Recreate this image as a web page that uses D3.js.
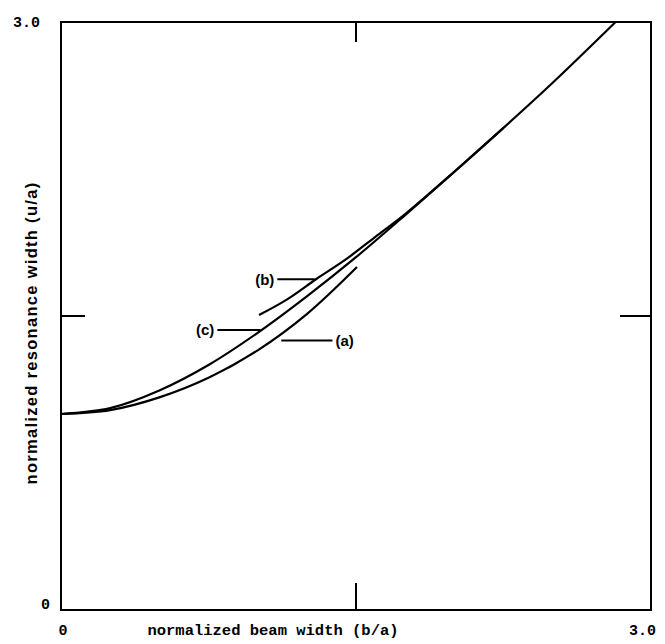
<!DOCTYPE html>
<html>
<head>
    <meta charset="utf-8">
    <title>Resonance width vs beam width</title>
    <style>
        body { margin: 0; background: #fff; }
    </style>
</head>
<body>
    <script src="https://d3js.org/d3.v7.min.js"></script>
    <script type="text/javascript">

    // values (b/a, u/a)
    var curveA = [[0, 1.0], [0.25, 1.02], [0.5, 1.085], [0.75, 1.185], [1.0, 1.325], [1.25, 1.51], [1.505, 1.75]];
    var curveB = [[1.007, 1.505], [1.15, 1.585], [1.3, 1.69], [1.45, 1.79], [1.6, 1.905], [1.75, 2.02], [2.0, 2.236], [2.25, 2.46]];
    var curveC = [[0, 1.0], [0.25, 1.03], [0.5, 1.12], [0.75, 1.25], [1.0, 1.414], [1.25, 1.60], [1.5, 1.80],
                  [1.75, 2.015], [2.0, 2.236], [2.25, 2.46], [2.5, 2.69], [2.82, 3.0]];

    var xTickLabels = ["0", "3.0"];
    var yTickLabels = ["0", "3.0"];
    var midTick = 1.5;

    var labels = [
        {text: "(a)", dir: 1},
        {text: "(b)", dir: -1},
        {text: "(c)", dir: -1}
    ];

    var margin = {top: 22, right: 14, bottom: 34, left: 61},
        width  = 665 - margin.left - margin.right,
        height = 644 - margin.top - margin.bottom;

    var x = d3.scaleLinear().domain([0, 3]).range([0, width]);
    var y = d3.scaleLinear().domain([0, 3]).range([height, 0]);

    var svg = d3.select("body")
        .append("svg")
        .attr("width", 665)
        .attr("height", 644);

    var chart = svg.append("g")
        .attr("transform", "translate(" + margin.left + "," + margin.top + ")");

    // frame
    chart.append("rect")
        .attr("x", 0).attr("y", 0)
        .attr("width", width).attr("height", height)
        .style("fill", "none")
        .style("stroke", "#000")
        .style("stroke-width", "2px");

    // inward ticks at the middle
    var ticks = [
        [x(midTick), height, x(midTick), height - 27],
        [x(midTick), 0, x(midTick), 20],
        [0, y(midTick), 24, y(midTick)],
        [width, y(midTick), width - 31, y(midTick)]
    ];
    chart.selectAll(".tick")
        .data(ticks)
        .enter().append("line")
        .attr("x1", function(d) { return d[0]; })
        .attr("y1", function(d) { return d[1]; })
        .attr("x2", function(d) { return d[2]; })
        .attr("y2", function(d) { return d[3]; })
        .style("stroke", "#000")
        .style("stroke-width", "2px");

    var line = d3.line()
        .x(function(d) { return x(d[0]); })
        .y(function(d) { return y(d[1]); })
        .curve(d3.curveCatmullRom.alpha(0.5));

    [curveA, curveB, curveC].forEach(function(c) {
        chart.append("path")
            .datum(c)
            .attr("d", line)
            .style("fill", "none")
            .style("stroke", "#000")
            .style("stroke-width", "2.2px");
    });

    // curve labels with short pointer lines
    var labelPos = {
        "(a)": {x1: x(1.12), x2: x(1.38), y: y(1.375)},
        "(b)": {x1: x(1.29), x2: x(1.10), y: y(1.687)},
        "(c)": {x1: x(1.015), x2: x(0.795), y: y(1.429)}
    };
    labels.forEach(function(l) {
        var p = labelPos[l.text];
        chart.append("line")
            .attr("x1", p.x1).attr("y1", p.y)
            .attr("x2", p.x2).attr("y2", p.y)
            .style("stroke", "#000")
            .style("stroke-width", "2px");
        chart.append("text")
            .attr("x", p.x2 + (l.dir > 0 ? 3 : -3))
            .attr("y", p.y)
            .attr("dy", "0.35em")
            .style("text-anchor", l.dir > 0 ? "start" : "end")
            .style("font-family", "Liberation Sans, Arial, sans-serif")
            .style("font-weight", "bold")
            .style("font-size", "15px")
            .text(l.text);
    });

    var mono = "Liberation Mono, Courier New, monospace";

    // tick labels
    svg.append("text")
        .attr("x", margin.left + 2).attr("y", margin.top + height + 25)
        .style("text-anchor", "middle")
        .style("font-family", mono).style("font-weight", "bold").style("font-size", "15px")
        .text(xTickLabels[0]);
    svg.append("text")
        .attr("x", margin.left + width + 5).attr("y", margin.top + height + 25)
        .style("text-anchor", "end")
        .style("font-family", mono).style("font-weight", "bold").style("font-size", "15px")
        .text(xTickLabels[1]);
    svg.append("text")
        .attr("x", margin.left - 11).attr("y", margin.top + y(0))
        .attr("dy", "-0.1em")
        .style("text-anchor", "end")
        .style("font-family", mono).style("font-weight", "bold").style("font-size", "15px")
        .text(yTickLabels[0]);
    svg.append("text")
        .attr("x", margin.left - 21).attr("y", margin.top + y(3))
        .attr("dy", "0.35em")
        .style("text-anchor", "end")
        .style("font-family", mono).style("font-weight", "bold").style("font-size", "15px")
        .text(yTickLabels[1]);

    // axis titles
    svg.append("text")
        .attr("x", 273).attr("y", margin.top + height + 25)
        .style("text-anchor", "middle")
        .style("font-family", mono).style("font-weight", "bold").style("font-size", "15.5px")
        .text("normalized beam width (b/a)");

    svg.append("text")
        .attr("transform", "translate(37," + 333 + ") rotate(-90)")
        .style("text-anchor", "middle")
        .style("font-family", "Liberation Sans, Arial, sans-serif")
        .style("font-weight", "bold")
        .style("font-size", "16.5px")
        .style("letter-spacing", "1.3px")
        .text("normalized resonance width (u/a)");

    </script>
</body>
</html>
